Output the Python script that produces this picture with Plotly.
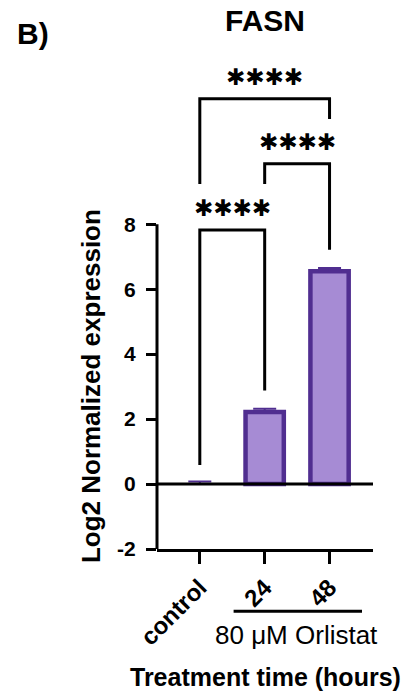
import plotly.graph_objects as go

# ---- data ----
categories = ["control", "24", "48"]
means = [0.0, 2.22, 6.55]
errors = [0.08, 0.10, 0.10]
bar_outline = [0, 4.5, 4.5]

# significance brackets: (left index, right index)
pair_left = [0, 1, 0]
pair_right = [1, 2, 2]
bracket_level = [7.82, 9.86, 11.86]
leg_left_bottom = [0.59, 9.24, 9.24]
leg_right_bottom = [2.88, 7.21, 11.24]
sig_labels = ["✱✱✱✱", "✱✱✱✱", "✱✱✱✱"]

y_ticks = [-2, 0, 2, 4, 6, 8]
y_tick_labels = ["-2", "0", "2", "4", "6", "8"]

# ---- layout geometry (pixels) ----
W, H = 409, 691
L, R, T, B = 156.7, 36.3, 60, 141.7
pw, ph = W - L - R, H - T - B
y_bottom_px = H - B

def xp(px):
    return (px - L) / pw

def yp(py):
    return (y_bottom_px - py) / ph

FILL = "#a68bd4"
EDGE = "#502e90"
FONT = "Liberation Sans"

fig = go.Figure()

fig.add_trace(go.Bar(
    x=list(range(len(categories))), y=means, width=0.59,
    marker=dict(color=FILL, line=dict(color=EDGE, width=bar_outline)),
    error_y=dict(type="data", symmetric=False, array=errors,
                 arrayminus=[0] * len(errors), color=EDGE, thickness=2, width=11.5),
    showlegend=False, hoverinfo="skip",
))

for a, b, lvl, lb, rb, lab in zip(pair_left, pair_right, bracket_level,
                                 leg_left_bottom, leg_right_bottom, sig_labels):
    fig.add_trace(go.Scatter(
        x=[a, a, b, b], y=[lb, lvl, lvl, rb], mode="lines",
        line=dict(color="black", width=3), showlegend=False, hoverinfo="skip",
    ))
    fig.add_annotation(x=(a + b) / 2, y=lvl, xref="x", yref="y", text=lab,
                       showarrow=False, yanchor="middle", yshift=22,
                       font=dict(family="DejaVu Sans", size=23, color="black"))

# axes lines as shapes (y axis spans -2..8; zero line above bars)
fig.add_shape(type="line", xref="paper", yref="y", x0=0, x1=0,
              y0=y_ticks[0], y1=y_ticks[-1], line=dict(color="black", width=3), layer="above")
fig.add_shape(type="line", xref="paper", yref="y", x0=0, x1=1, y0=0, y1=0,
              line=dict(color="black", width=3), layer="above")

# Orlistat underline
fig.add_shape(type="line", xref="paper", yref="paper", x0=xp(233.3), x1=xp(361.7),
              y0=yp(611.7), y1=yp(611.7), line=dict(color="black", width=3))

fig.add_annotation(text="80 μM Orlistat", xref="paper", yref="paper",
                   x=xp(296), y=yp(635), showarrow=False, xanchor="center", yanchor="middle",
                   font=dict(family=FONT, size=26, color="black"))
fig.add_annotation(text="<b>Treatment time (hours)</b>", xref="paper", yref="paper",
                   x=xp(265), y=yp(677), showarrow=False, xanchor="center", yanchor="middle",
                   font=dict(family=FONT, size=25, color="black"))
fig.add_annotation(text="<b>Log2 Normalized expression</b>", xref="paper", yref="paper",
                   x=xp(91), y=yp(386), showarrow=False, textangle=-90,
                   xanchor="center", yanchor="middle",
                   font=dict(family=FONT, size=26, color="black"))
fig.add_annotation(text="<b>FASN</b>", xref="paper", yref="paper",
                   x=xp(264.5), y=yp(20), showarrow=False, xanchor="center", yanchor="middle",
                   font=dict(family=FONT, size=30, color="black"))
fig.add_annotation(text="<b>B)</b>", xref="paper", yref="paper",
                   x=xp(15), y=yp(33), showarrow=False, xanchor="left", yanchor="middle",
                   font=dict(family=FONT, size=30, color="black"))

y_per_px = 10 / (549.3 - 224.3)
fig.update_layout(
    width=W, height=H, autosize=False,
    margin=dict(l=L, r=R, t=T, b=B, pad=0),
    plot_bgcolor="white", paper_bgcolor="white",
    xaxis=dict(range=[-0.66, 2.67], tickmode="array",
               tickvals=list(range(len(categories))), ticktext=categories,
               tickangle=-45, ticks="outside", ticklen=12, tickwidth=3, tickcolor="black",
               showline=True, linewidth=3, linecolor="black", showgrid=False, zeroline=False,
               tickfont=dict(family=FONT, size=24, color="black", weight="bold")),
    yaxis=dict(range=[-2, -2 + ph * y_per_px], tickmode="array", tickvals=y_ticks,
               ticktext=y_tick_labels,
               ticks="outside", ticklen=10, tickwidth=3, tickcolor="black",
               showline=False, showgrid=False, zeroline=False, ticklabelstandoff=6,
               tickfont=dict(family=FONT, size=21, color="black", weight="bold")),
)

fig.write_html("out.html", config={"displayModeBar": False},
               post_script="document.body.style.margin='0';")
